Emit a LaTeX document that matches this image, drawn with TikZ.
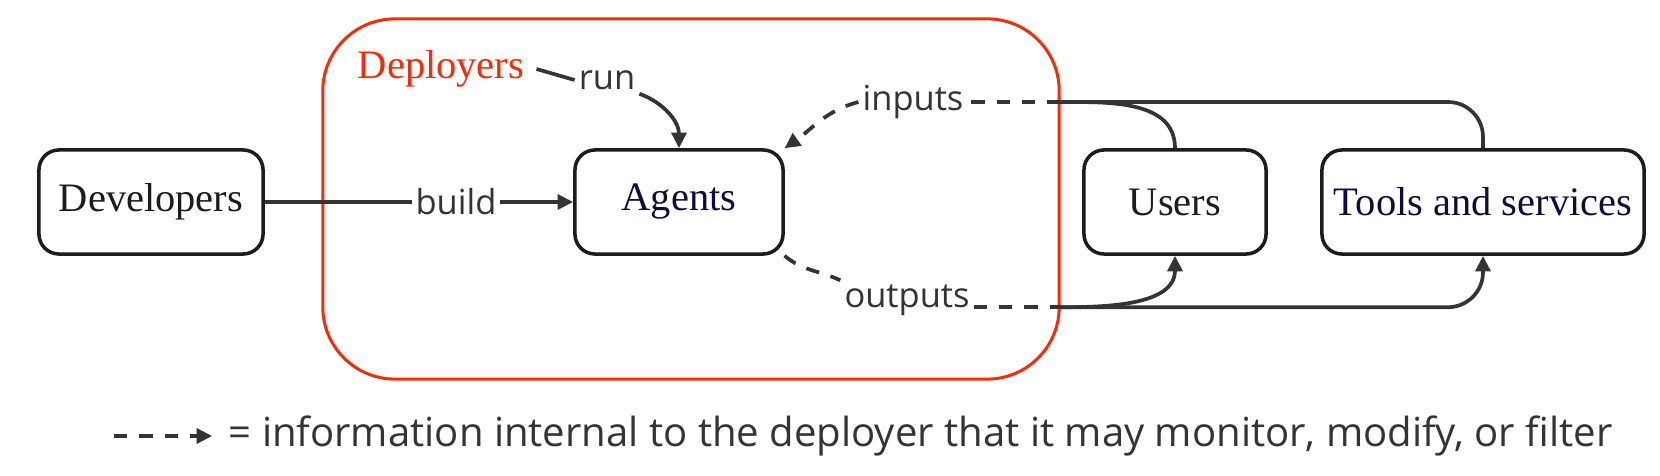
\documentclass[tikz,border=0pt]{standalone}
\usepackage{fontspec}
\setmainfont{Liberation Serif}
\newfontfamily\labelfont{Open Sans}
\usetikzlibrary{arrows.meta,positioning}
\definecolor{deployred}{RGB}{248,42,8}
\definecolor{wirecol}{RGB}{52,52,52}
\definecolor{navytext}{RGB}{14,12,62}
\definecolor{darktext}{RGB}{28,28,28}

\begin{document}
\begin{tikzpicture}[
    x=0.01cm, y=-0.01cm,
    >={Triangle[length=4.4pt,width=4.2pt]},
    zone/.style={draw=deployred, line width=0.85pt, rounded corners=0.72cm, minimum width=7.36cm, minimum height=3.6cm},
    actor/.style={draw=darktext, line width=1pt, rounded corners=0.2cm, minimum height=1.04cm, font=\fontsize{11.5}{13}\selectfont, text=darktext},
    lbl/.style={font=\labelfont\fontsize{9.8}{11}\selectfont, text=wirecol, fill=white, inner sep=1pt},
    wire/.style={draw=wirecol, line width=1.05pt},
    info/.style={draw=wirecol, line width=1.05pt, dash pattern=on 3.8pt off 3.4pt},
]
\useasboundingbox (0,0) rectangle (1660,476);

\node[zone] (zone) at (691,199) {};
\node[font=\fontsize{11.5}{13}\selectfont, text=deployred] (deployers) at (441,69) {Deployers};

\node[actor, minimum width=2.24cm] (developers) at (151,202) {Developers};
\node[actor, minimum width=2.08cm, text=navytext] (agents) at (679,202) {Agents};
\node[actor, minimum width=1.82cm] (users) at (1175,202) {Users};
\node[actor, minimum width=3.22cm, text=navytext] (tools) at (1483,202) {Tools and services};

\node[lbl] (run) at (607,80) {run};
\node[lbl] (inputs) at (913,102) {inputs};
\node[lbl] (outputs) at (907,300) {outputs};
\coordinate (inB) at (inputs.east -| zone.east);
\coordinate (outB) at (outputs.base east -| zone.east);

\draw[wire,->] (developers) -- node[lbl,pos=0.62] (build) {build} (agents);
\draw[wire] (deployers.east) -- (run.west);
\draw[wire,->] (run.south east) to[out=-20,in=90] (agents.north);

\draw[info] (inB) -- (inputs.east);
\draw[info,->] (inputs.west) to[out=195,in=35] (agents.27);
\draw[info] (agents.-27) to[out=-40,in=155] (outputs.north west);
\draw[info] (outputs.base east) -- (outB);

\draw[wire] (users.north) to[out=90,in=0] (inB);
\draw[wire,rounded corners=0.35cm] (tools.north) |- (inB);
\draw[wire,->] (outB) to[out=0,in=-90] (users.south);
\draw[wire,->,rounded corners=0.35cm] (outB) -| (tools.south);

\coordinate (keystart) at (114,436);
\node[lbl, fill=none, anchor=west, inner sep=0pt, font=\labelfont\fontsize{11.4}{13}\selectfont] (keytext) at (228,436)
  {= information internal to the deployer that it may monitor, modify, or filter};
\draw[info,->,shorten >=4.5pt] (keystart) -- (keytext.west);
\end{tikzpicture}
\end{document}
